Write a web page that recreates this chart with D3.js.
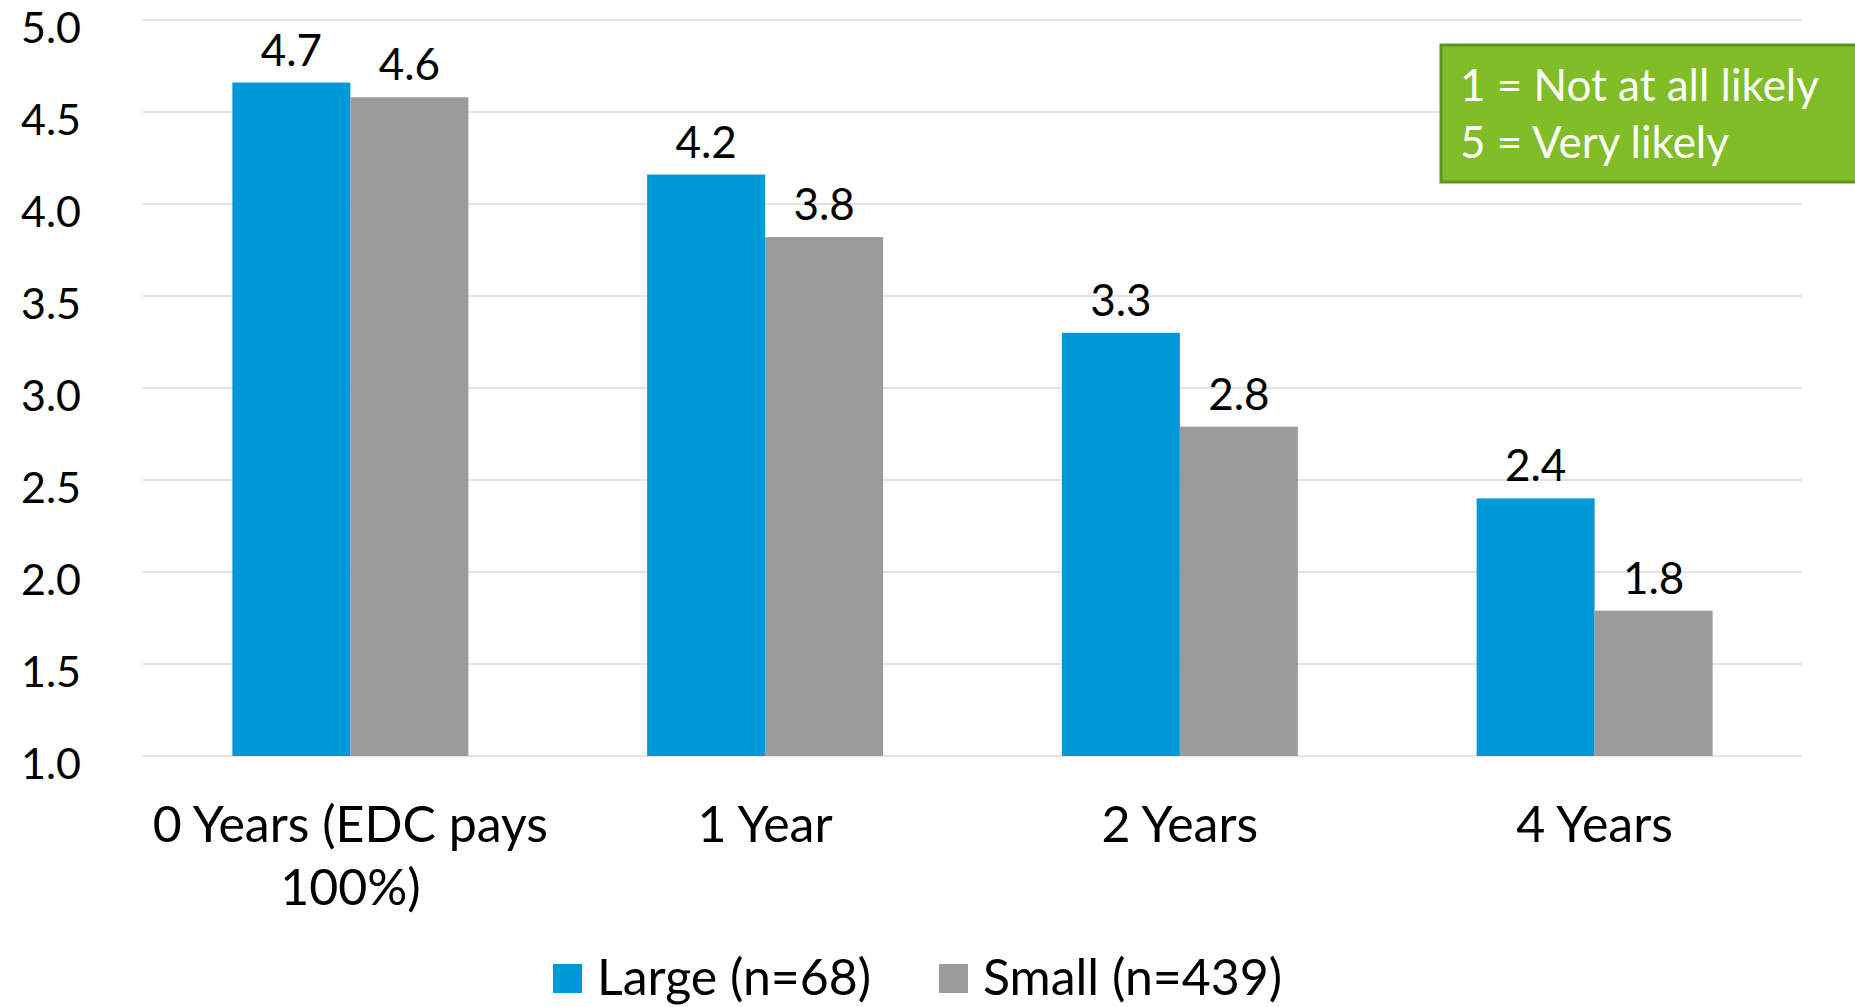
<!DOCTYPE html>
<html>
<head>
<meta charset="utf-8">
<script src="https://cdn.jsdelivr.net/npm/d3@7"></script>
<style>
  html, body { margin: 0; padding: 0; background: #ffffff; }
  svg { display: block; font-family: Lato, "Open Sans", sans-serif; }
</style>
</head>
<body>
<svg id="chart" width="1855" height="1007"></svg>
<script>
const categories = ["0 Years (EDC pays 100%)", "1 Year", "2 Years", "4 Years"];
const seriesNames = ["Large (n=68)", "Small (n=439)"];
const largeValues = [4.66, 4.16, 3.30, 2.40];
const smallValues = [4.58, 3.82, 2.79, 1.79];
const yTicks = [1.0, 1.5, 2.0, 2.5, 3.0, 3.5, 4.0, 4.5, 5.0];
const noteLines = ["1 = Not at all likely", "5 = Very likely"];

const colors = ["#0099D7", "#9B9B9B"];
const svg = d3.select("#chart");

const plot = { left: 143, right: 1802, top: 20, bottom: 756 };

const x = d3.scaleBand().domain(categories)
  .range([plot.left, plot.right]).paddingInner(0.431).paddingOuter(0.2155);
const xs = d3.scaleBand().domain(seriesNames).range([0, x.bandwidth()]);
const y = d3.scaleLinear().domain([1, 5]).range([plot.bottom, plot.top]);

// gridlines
svg.append("g").selectAll("line").data(yTicks).join("line")
  .attr("x1", plot.left).attr("x2", plot.right)
  .attr("y1", d => y(d)).attr("y2", d => y(d))
  .attr("stroke", "#E3E3E3").attr("stroke-width", 2);

// y axis
const yAxis = d3.axisLeft(y).tickValues(yTicks).tickFormat(d3.format(".1f")).tickSize(0).tickPadding(0);
const yg = svg.append("g").attr("transform", `translate(81,0)`).call(yAxis);
yg.select(".domain").remove();
yg.selectAll("text").attr("font-size", 43).attr("fill", "#000").attr("font-family", "Lato, sans-serif")
  .attr("dy", 0).attr("y", 22);

// bars
const data = categories.map((c, i) => ({ cat: c, vals: [largeValues[i], smallValues[i]] }));
const groups = svg.append("g").selectAll("g").data(data).join("g")
  .attr("transform", d => `translate(${x(d.cat)},0)`);

groups.selectAll("rect").data(d => d.vals.map((v, j) => ({ v, s: seriesNames[j], j })))
  .join("rect")
  .attr("x", d => xs(d.s)).attr("width", xs.bandwidth())
  .attr("y", d => y(d.v)).attr("height", d => y(1) - y(d.v))
  .attr("fill", d => colors[d.j]);

groups.selectAll("text.lbl").data(d => d.vals.map((v, j) => ({ v, s: seriesNames[j], j })))
  .join("text").attr("class", "lbl")
  .attr("x", d => xs(d.s) + xs.bandwidth() / 2)
  .attr("y", d => y(d.v) - 17)
  .attr("text-anchor", "middle").attr("font-size", 44).attr("fill", "#000")
  .text(d => d3.format(".1f")(d.v));

// x axis labels with wrapping
const xAxis = d3.axisBottom(x).tickSize(0).tickPadding(0);
const xg = svg.append("g").attr("transform", `translate(0,${plot.bottom})`).call(xAxis);
xg.select(".domain").remove();
xg.selectAll("text").attr("font-size", 50).attr("fill", "#000").attr("font-family", "Lato, sans-serif")
  .attr("y", 0).attr("dy", 0)
  .each(function (d) {
    const t = d3.select(this);
    const words = d.split(" ");
    const maxW = x.step();
    t.text(null);
    let line = [];
    let lines = [];
    const probe = t.append("tspan");
    words.forEach(w => {
      line.push(w);
      probe.text(line.join(" "));
      if (probe.node().getComputedTextLength() > maxW && line.length > 1) {
        line.pop();
        lines.push(line.join(" "));
        line = [w];
      }
    });
    lines.push(line.join(" "));
    probe.remove();
    lines.forEach((l, k) => {
      t.append("tspan").attr("x", 0).attr("y", 86 + k * 63).text(l);
    });
  });

// legend
const legend = svg.append("g");
const legendX = [553, 939];
seriesNames.forEach((s, j) => {
  legend.append("rect").attr("x", legendX[j]).attr("y", 964).attr("width", 29).attr("height", 29).attr("fill", colors[j]);
  legend.append("text").attr("x", legendX[j] + 44).attr("y", 995).attr("font-size", 50).attr("fill", "#000").text(s);
});

// note box
const note = svg.append("g");
note.append("rect").attr("x", 1441).attr("y", 45).attr("width", 430).attr("height", 137)
  .attr("fill", "#80BD27").attr("stroke", "#5F951F").attr("stroke-width", 3);
noteLines.forEach((l, k) => {
  note.append("text").attr("x", 1460).attr("y", 101 + k * 57).attr("font-size", 44).attr("fill", "#fff").text(l);
});
</script>
</body>
</html>
